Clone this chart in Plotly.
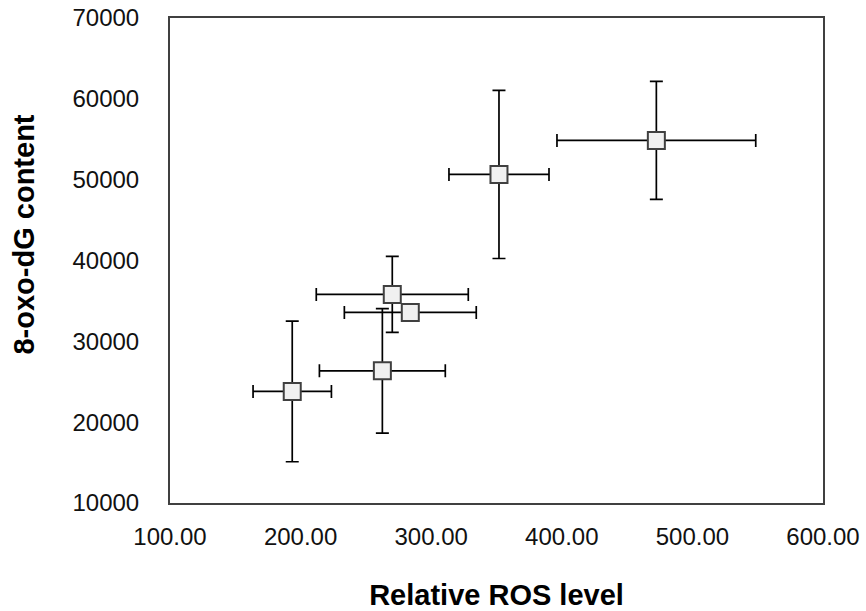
import plotly.graph_objects as go

ros_level = [193.6, 262.6, 270.2, 284.0, 351.9, 472.4]
ros_err = [30.0, 48.2, 58.2, 50.5, 38.3, 76.1]
oxo_dg = [23800, 26350, 35800, 33580, 50650, 54860]
oxo_err = [8700, 7700, 4700, 600, 10400, 7300]

x_ticks = [100, 200, 300, 400, 500, 600]
y_ticks = [10000, 20000, 30000, 40000, 50000, 60000, 70000]

fig = go.Figure()
fig.add_trace(go.Scatter(
    x=ros_level, y=oxo_dg, mode="markers",
    marker=dict(symbol="square", size=17, color="#f0f0f0",
                line=dict(color="#404040", width=2)),
    error_x=dict(type="data", array=ros_err, color="black", thickness=1.7, width=6.5),
    error_y=dict(type="data", array=oxo_err, color="black", thickness=1.7, width=6.5),
    showlegend=False,
))

font = dict(family="Liberation Sans, Arial, sans-serif", color="#111111")
fig.update_layout(
    width=866, height=611,
    margin=dict(l=170, r=43, t=18, b=108),
    paper_bgcolor="white", plot_bgcolor="white",
    font=dict(**font, size=24),
    xaxis=dict(range=[100, 600], tickvals=x_ticks,
               ticktext=[f"{v:.2f}" for v in x_ticks],
               showgrid=False, zeroline=False, showline=True, mirror=True,
               linecolor="#404040", linewidth=2, ticks="outside", ticklen=0,
               ticklabelstandoff=11, ticklabeloverflow="allow", automargin=False,
               title=dict(text="<b>Relative ROS level</b>", font=dict(size=29, color="black"),
                          standoff=36)),
    yaxis=dict(range=[10000, 70000], tickvals=y_ticks,
               ticktext=[str(v) for v in y_ticks],
               showgrid=False, zeroline=False, showline=True, mirror=True,
               linecolor="#404040", linewidth=2, ticks="outside", ticklen=0,
               ticklabelstandoff=24, ticklabeloverflow="allow", automargin=False),
    annotations=[dict(text="<b>8-oxo-dG content</b>", textangle=-90,
                      xref="paper", yref="paper", x=-0.224, y=0.553,
                      xanchor="center", yanchor="middle", showarrow=False,
                      font=dict(size=29, color="black"))],
)

fig.write_html("out.html", config={"displayModeBar": False},
               post_script="document.body.style.margin='0';")
